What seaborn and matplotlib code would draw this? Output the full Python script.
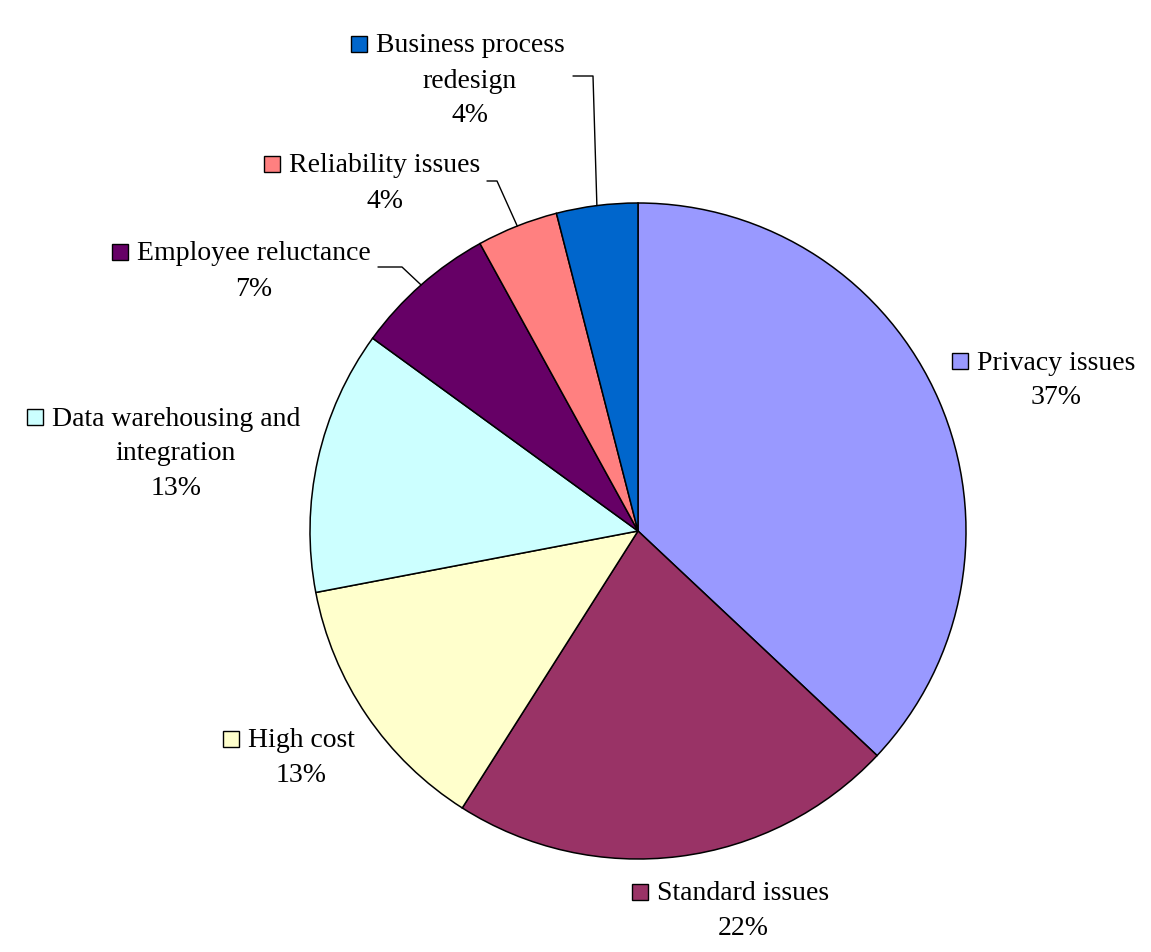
import matplotlib
matplotlib.use("Agg")
import matplotlib.pyplot as plt
from matplotlib.patches import Rectangle
import numpy as np
import seaborn as sns

# ---- data ----
categories = ["Privacy issues", "Standard issues", "High cost",
              "Data warehousing and integration", "Employee reluctance",
              "Reliability issues", "Business process redesign"]
label_lines = [["Privacy issues"], ["Standard issues"], ["High cost"],
               ["Data warehousing and", "integration"], ["Employee reluctance"],
               ["Reliability issues"], ["Business process", "redesign"]]
values = [37, 22, 13, 13, 7, 4, 4]
colors = ["#9999FF", "#993366", "#FFFFCC", "#CCFFFF", "#660066", "#FF8080", "#0066CC"]

sns.set_theme(style="white")
plt.rcParams["font.family"] = ["Liberation Serif", "DejaVu Serif"]

W, H = 1151, 953
fig = plt.figure(figsize=(W / 100, H / 100), dpi=100)
fig.patch.set_facecolor("white")
ax = fig.add_axes([0, 0, 1, 1])

def Y(y):
    return H - y

cx, cy, R = 638, 532, 328
ax.pie(values, colors=colors, startangle=90, counterclock=False,
       center=(cx, Y(cy)), radius=R, frame=True,
       wedgeprops=dict(edgecolor="black", linewidth=1.1))
ax.set_xlim(0, W)
ax.set_ylim(0, H)
ax.set_aspect("equal")
ax.axis("off")

# label layout (text center x, first line y in pixels)
label_pos = [(1056, 363), (743, 894), (301, 741), (176, 419),
             (254, 254), (385, 166), (470, 46)]
fs = 20
line_h = 35
renderer = fig.canvas.get_renderer()
for i, (lines, v, col) in enumerate(zip(label_lines, values, colors)):
    x0, y0 = label_pos[i]
    allines = lines + [f"{v}%"]
    for k, ln in enumerate(allines):
        t = ax.text(x0, Y(y0 + k * line_h), ln, ha="center", va="center",
                    fontsize=fs, color="black")
        if k == 0:
            bb = t.get_window_extent(renderer=renderer)
            sq = 16
            ax.add_patch(Rectangle((bb.x0 - sq - 9, Y(y0) - sq / 2 + 1), sq, sq,
                                   facecolor=col, edgecolor="black", linewidth=1.0))

# leader lines for small slices (from label to slice mid-edge)
cum = np.cumsum([0] + values[:-1])
def mid_edge(i):
    frac = (cum[i] + values[i] / 2) / sum(values)
    ang = np.deg2rad(90 - 360 * frac)
    return cx + R * np.cos(ang), Y(cy) + R * np.sin(ang)

leaders = {6: (573, 593, 77), 5: (487, 497, 182), 4: (378, 402, 268)}
for i, (xa, xb, yl) in leaders.items():
    ex, ey = mid_edge(i)
    ax.plot([xa, xb, ex], [Y(yl), Y(yl), ey], color="black", linewidth=1.0)

fig.savefig("out.png", dpi=100, facecolor="white")
